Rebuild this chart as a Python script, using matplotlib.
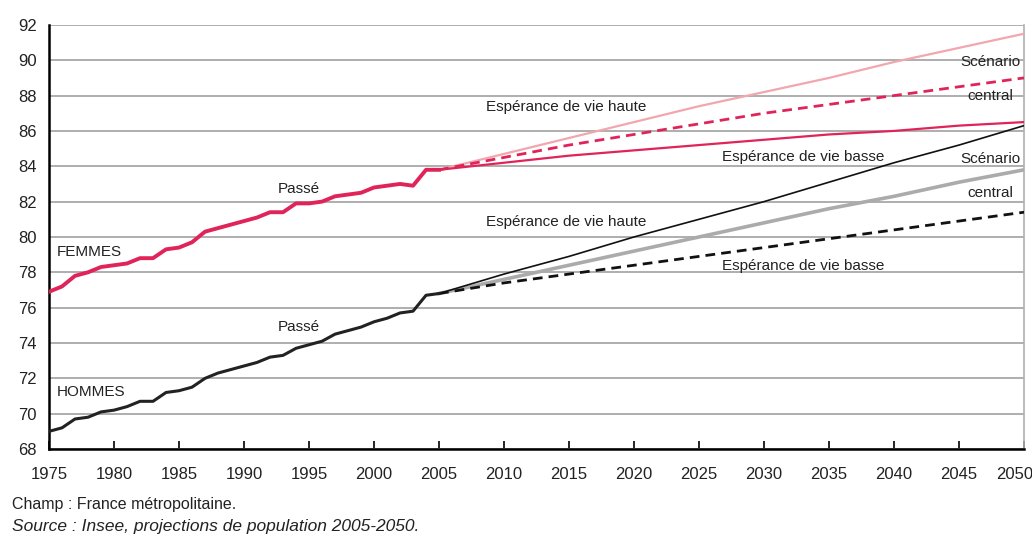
import matplotlib.pyplot as plt
import matplotlib.transforms as mtransforms
import numpy as np

plt.rcParams['font.family'] = ['Liberation Sans Narrow', 'Liberation Sans', 'DejaVu Sans']

# Past values (1975-2005)
years_past = np.arange(1975, 2006)
femmes_past = [76.9, 77.2, 77.8, 78.0, 78.3, 78.4, 78.5, 78.8, 78.8, 79.3,
               79.4, 79.7, 80.3, 80.5, 80.7, 80.9, 81.1, 81.4, 81.4, 81.9,
               81.9, 82.0, 82.3, 82.4, 82.5, 82.8, 82.9, 83.0, 82.9, 83.8, 83.8]
hommes_past = [69.0, 69.2, 69.7, 69.8, 70.1, 70.2, 70.4, 70.7, 70.7, 71.2,
               71.3, 71.5, 72.0, 72.3, 72.5, 72.7, 72.9, 73.2, 73.3, 73.7,
               73.9, 74.1, 74.5, 74.7, 74.9, 75.2, 75.4, 75.7, 75.8, 76.7, 76.8]

# Projections (2005-2050)
years_proj = np.arange(2005, 2051, 5)
femmes_haute = [83.8, 84.7, 85.6, 86.5, 87.4, 88.2, 89.0, 89.9, 90.7, 91.5]
femmes_central = [83.8, 84.5, 85.2, 85.8, 86.4, 87.0, 87.5, 88.0, 88.5, 89.0]
femmes_basse = [83.8, 84.2, 84.6, 84.9, 85.2, 85.5, 85.8, 86.0, 86.3, 86.5]
hommes_haute = [76.8, 77.9, 78.9, 80.0, 81.0, 82.0, 83.1, 84.2, 85.2, 86.3]
hommes_central = [76.8, 77.6, 78.4, 79.2, 80.0, 80.8, 81.6, 82.3, 83.1, 83.8]
hommes_basse = [76.8, 77.4, 77.9, 78.4, 78.9, 79.4, 79.9, 80.4, 80.9, 81.4]

red = '#e0245a'
pink = '#f2a6ae'
grey = '#ababab'
ink = '#222222'

fig = plt.figure(figsize=(10.32, 5.41), dpi=100)
ax = fig.add_axes([0.0475, 0.170, 0.9448, 0.784])

dash = (0, (3.5, 2.2))
ax.plot(years_proj, femmes_haute, color=pink, lw=1.6, zorder=3)
ax.plot(years_proj, femmes_central, color=red, lw=2.0, linestyle=dash, zorder=3)
ax.plot(years_proj, femmes_basse, color=red, lw=1.6, zorder=3)
ax.plot(years_proj, hommes_central, color=grey, lw=2.6, zorder=3)
ax.plot(years_proj, hommes_haute, color='#111111', lw=1.2, zorder=4)
ax.plot(years_proj, hommes_basse, color='#111111', lw=2.0, linestyle=dash, zorder=4)
ax.plot(years_past, femmes_past, color=red, lw=2.8, zorder=5)
ax.plot(years_past, hommes_past, color=ink, lw=2.2, zorder=5)

fs = 11
ax.text(1975.6, 79.15, 'FEMMES', fontsize=fs, va='center', color=ink)
ax.text(1975.6, 71.2, 'HOMMES', fontsize=fs, va='center', color=ink)
ax.text(1992.6, 82.7, 'Passé', fontsize=fs, va='center', color=ink)
ax.text(1992.6, 74.9, 'Passé', fontsize=fs, va='center', color=ink)
ax.text(2008.6, 87.35, 'Espérance de vie haute', fontsize=fs, va='center', color=ink)
ax.text(2026.8, 84.55, 'Espérance de vie basse', fontsize=fs, va='center', color=ink)
ax.text(2008.6, 80.85, 'Espérance de vie haute', fontsize=fs, va='center', color=ink)
ax.text(2026.8, 78.35, 'Espérance de vie basse', fontsize=fs, va='center', color=ink)
ax.text(2047.4, 89.9, 'Scénario', fontsize=fs, va='center', ha='center', color=ink)
ax.text(2047.4, 88.0, 'central', fontsize=fs, va='center', ha='center', color=ink)
ax.text(2047.4, 84.4, 'Scénario', fontsize=fs, va='center', ha='center', color=ink)
ax.text(2047.4, 82.5, 'central', fontsize=fs, va='center', ha='center', color=ink)

ax.set_xlim(1975, 2050)
ax.set_ylim(68, 92)
ax.set_xticks(np.arange(1975, 2051, 5))
ax.set_yticks(np.arange(68, 93, 2))
ax.tick_params(axis='x', direction='in', length=6, width=1.2, pad=13, labelsize=12, labelcolor=ink)
ax.tick_params(axis='y', length=0, pad=9, labelsize=12, labelcolor=ink)
ax.grid(True, axis='y', color='#a8a8a8', lw=1.3)
ax.set_axisbelow(True)
ax.spines['left'].set_linewidth(1.8)
ax.spines['bottom'].set_linewidth(1.8)
ax.spines['top'].set_visible(False)
ax.spines['right'].set_color('#b0b0b0')
ax.spines['right'].set_linewidth(1.2)

# last label nudged left so it stays inside the figure
last = ax.get_xticklabels()[-1]
last.set_transform(last.get_transform() + mtransforms.ScaledTranslation(-0.09, 0, fig.dpi_scale_trans))

fig.text(0.012, 0.068, 'Champ : France métropolitaine.', fontsize=11.5, va='center', color=ink)
fig.text(0.012, 0.026, 'Source : Insee, projections de population 2005-2050.', fontsize=12.5,
         va='center', style='italic', color=ink)

plt.savefig('out.png', dpi=100)
